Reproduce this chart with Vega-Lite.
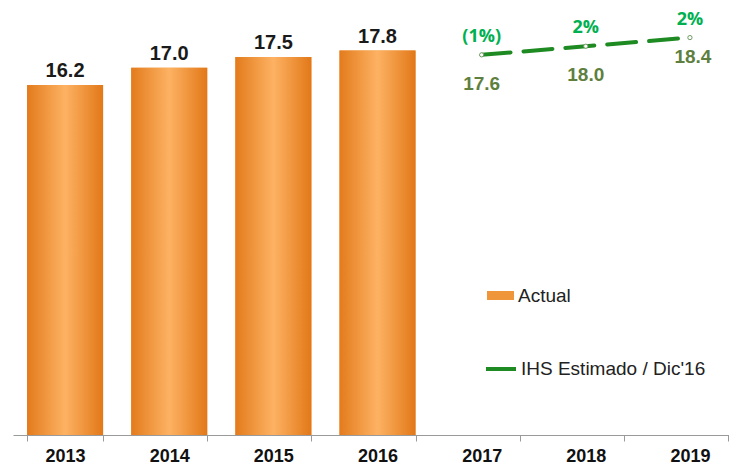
{
  "$schema": "https://vega.github.io/schema/vega-lite/v6.json",
  "width": 729,
  "height": 435,
  "autosize": "none",
  "padding": {"left": 13, "top": 0, "right": 0, "bottom": 31},
  "background": "white",
  "config": {"view": {"stroke": null}, "font": "Liberation Sans"},
  "data": {
    "values": [
      {"year": "2013", "actual": 16.2},
      {"year": "2014", "actual": 17.0},
      {"year": "2015", "actual": 17.5},
      {"year": "2016", "actual": 17.8},
      {"year": "2017", "est": 17.6, "pct": "(1%)"},
      {"year": "2018", "est": 18.0, "pct": "2%"},
      {"year": "2019", "est": 18.4, "pct": "2%"}
    ]
  },
  "encoding": {
    "x": {
      "field": "year",
      "type": "nominal",
      "scale": {
        "domain": ["2013", "2014", "2015", "2016", "2017", "2018", "2019"],
        "paddingInner": 0.27,
        "paddingOuter": 0.135
      },
      "axis": {
        "title": null,
        "labelAngle": 0,
        "tickBand": "extent",
        "domainColor": "#9a9a9a",
        "tickColor": "#9a9a9a",
        "tickSize": 6,
        "labelPadding": 6,
        "labelFont": "Liberation Sans",
        "labelFontSize": 18,
        "labelFontWeight": "bold",
        "labelColor": "#111111"
      }
    }
  },
  "layer": [
    {
      "transform": [{"filter": "datum.actual != null"}],
      "mark": {"type": "bar"},
      "encoding": {
        "y": {"field": "actual", "type": "quantitative", "scale": {"domain": [0, 20.14], "nice": false, "zero": true}, "axis": null},
        "fill": {
          "datum": "Actual",
          "type": "nominal",
          "scale": {"range": ["#f0963a"]},
          "legend": {
            "title": null,
            "orient": "none",
            "legendX": 474,
            "legendY": 282,
            "symbolType": "M-1,-0.333H1V0.333H-1Z",
            "symbolSize": 729,
            "symbolStrokeWidth": 0,
            "labelFont": "Liberation Sans",
            "labelFontSize": 19,
            "labelColor": "#222222",
            "labelOffset": 4,
            "labelLimit": 400,
            "padding": 0
          }
        }
      }
    },
    {
      "transform": [{"filter": "datum.actual != null"}],
      "mark": {
        "type": "bar",
        "color": {
          "gradient": "linear",
          "x1": 0, "x2": 1, "y1": 0, "y2": 0,
          "stops": [
            {"offset": 0, "color": "#e37b1c"},
            {"offset": 0.5, "color": "#fdb263"},
            {"offset": 1, "color": "#e27818"}
          ]
        }
      },
      "encoding": {
        "y": {"field": "actual", "type": "quantitative"}
      }
    },
    {
      "transform": [{"filter": "datum.actual != null"}],
      "mark": {"type": "text", "baseline": "bottom", "dy": -4, "fontSize": 20, "fontWeight": "bold", "color": "#1a1a1a", "font": "Liberation Sans"},
      "encoding": {
        "y": {"field": "actual", "type": "quantitative"},
        "text": {"field": "actual", "type": "quantitative", "format": ".1f"}
      }
    },
    {
      "transform": [{"filter": "datum.est != null"}],
      "mark": {"type": "line", "strokeWidth": 4, "strokeDash": [29, 13], "strokeCap": "round"},
      "encoding": {
        "y": {"field": "est", "type": "quantitative"},
        "stroke": {
          "datum": "IHS Estimado / Dic'16",
          "type": "nominal",
          "scale": {"range": ["#1e8a22"]},
          "legend": {
            "title": null,
            "orient": "none",
            "legendX": 471,
            "legendY": 352,
            "symbolType": "stroke",
            "symbolSize": 900,
            "symbolStrokeWidth": 4,
            "symbolDash": [1, 0],
            "labelFont": "Liberation Sans",
            "labelFontSize": 19,
            "labelColor": "#222222",
            "labelOffset": 3,
            "labelLimit": 400,
            "padding": 0
          }
        }
      }
    },
    {
      "transform": [{"filter": "datum.est != null"}],
      "mark": {"type": "point", "filled": true, "fill": "white", "stroke": "#6f9a63", "strokeWidth": 1, "size": 18, "opacity": 1},
      "encoding": {
        "y": {"field": "est", "type": "quantitative"}
      }
    },
    {
      "transform": [{"filter": "datum.est != null && datum.year != '2019'"}],
      "mark": {"type": "text", "baseline": "middle", "dy": 29, "fontSize": 19, "fontWeight": "bold", "color": "#5e7f3e", "font": "Liberation Sans"},
      "encoding": {
        "y": {"field": "est", "type": "quantitative"},
        "text": {"field": "est", "type": "quantitative", "format": ".1f"}
      }
    },
    {
      "transform": [{"filter": "datum.year == '2019'"}],
      "mark": {"type": "text", "baseline": "middle", "dy": 19, "dx": 3, "fontSize": 19, "fontWeight": "bold", "color": "#5e7f3e", "font": "Liberation Sans"},
      "encoding": {
        "y": {"field": "est", "type": "quantitative"},
        "text": {"field": "est", "type": "quantitative", "format": ".1f"}
      }
    },
    {
      "transform": [{"filter": "datum.est != null"}],
      "mark": {"type": "text", "baseline": "middle", "dy": -18, "fontSize": 18, "fontWeight": "bold", "color": "#00b050", "font": "Open Sans"},
      "encoding": {
        "y": {"field": "est", "type": "quantitative"},
        "text": {"field": "pct", "type": "nominal"}
      }
    }
  ]
}
